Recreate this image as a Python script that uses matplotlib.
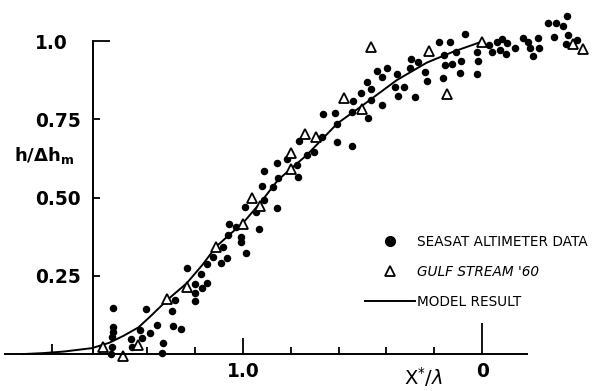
import numpy as np
import matplotlib
matplotlib.use("Agg")
import matplotlib.pyplot as plt
from matplotlib.lines import Line2D

# SEASAT altimeter data (x*/lambda, h/dh_m)
seasat_x = [1.545, 1.545, 1.545, 1.549, 1.549, 1.554, 1.470, 1.466, 1.431, 1.424,
            1.406, 1.389, 1.361, 1.336, 1.340, 1.298, 1.294, 1.285, 1.261, 1.236,
            1.201, 1.200, 1.200, 1.176, 1.170, 1.149, 1.149, 1.127, 1.093, 1.082,
            1.068, 1.062, 0.667, 0.615, 0.605, 0.605, 0.671, 0.703, 0.731, 0.767,
            0.773, 0.769, 0.817, 0.856, 0.911, 0.852, 0.873, 0.922, 0.911, 0.992,
            0.946, 0.856, 1.057, 1.029, 1.010, 0.932, 0.987, 1.010, 0.071, 0.179,
            0.134, 0.022, 0.017, 0.021, 0.109, 0.089, 0.127, 0.159, 0.155, 0.092,
            0.162, 0.238, 0.231, 0.267, 0.297, 0.301, 0.354, 0.364, 0.326, 0.353,
            0.280, 0.399, 0.441, 0.417, 0.482, 0.466, 0.508, 0.538, 0.466, 0.420,
            0.545, 0.476, -0.354, -0.277, -0.310, -0.340, -0.301, -0.361, -0.396, -0.351,
            -0.173, -0.236, -0.194, -0.201, -0.240, -0.215, -0.138, -0.082, -0.062, -0.103,
            -0.031, -0.075, -0.041, -0.100, 0.543]
seasat_y = [0.148, 0.087, 0.071, 0.055, 0.023, 0.000, 0.047, 0.021, 0.077, 0.050,
            0.143, 0.068, 0.094, 0.036, 0.004, 0.137, 0.089, 0.173, 0.081, 0.274,
            0.223, 0.194, 0.169, 0.255, 0.210, 0.226, 0.287, 0.309, 0.290, 0.341,
            0.306, 0.380, 0.767, 0.771, 0.735, 0.678, 0.694, 0.644, 0.636, 0.681,
            0.605, 0.565, 0.622, 0.609, 0.586, 0.561, 0.533, 0.537, 0.492, 0.469,
            0.455, 0.465, 0.414, 0.407, 0.375, 0.398, 0.322, 0.358, 1.022, 0.996,
            0.996, 0.964, 0.937, 0.895, 0.964, 0.937, 0.927, 0.955, 0.923, 0.899,
            0.881, 0.900, 0.873, 0.934, 0.942, 0.913, 0.895, 0.852, 0.852, 0.824,
            0.822, 0.913, 0.905, 0.886, 0.868, 0.846, 0.835, 0.809, 0.812, 0.796,
            0.774, 0.755, 1.081, 1.057, 1.057, 1.049, 1.014, 1.019, 1.003, 0.990,
            1.011, 1.011, 0.998, 0.977, 0.979, 0.952, 0.979, 1.005, 0.998, 0.993,
            0.987, 0.971, 0.964, 0.958, 0.665]

# Gulf Stream '60
gulf_x = [1.584, 1.501, 1.438, 1.317, 1.236, 1.113, 1.001, 0.964, 0.929, 0.799,
          0.799, 0.741, 0.695, 0.577, 0.503, 0.466, 0.221, 0.145, 0.001, -0.382, -0.421]
gulf_y = [0.021, -0.006, 0.029, 0.175, 0.213, 0.341, 0.415, 0.497, 0.473, 0.641,
          0.590, 0.702, 0.694, 0.817, 0.782, 0.982, 0.968, 0.830, 0.998, 0.990, 0.973]

# model result
model_x = [1.92, 1.837, 1.75, 1.632, 1.56, 1.501, 1.438, 1.38, 1.317, 1.236, 1.17, 1.113,
           1.05, 1.001, 0.929, 0.854, 0.733, 0.605, 0.497, 0.357, 0.231, 0.120, 0.001]
model_y = [0.0, 0.003, 0.008, 0.019, 0.036, 0.058, 0.085, 0.126, 0.173, 0.226, 0.285, 0.343,
           0.386, 0.418, 0.482, 0.556, 0.636, 0.737, 0.796, 0.875, 0.931, 0.966, 0.998]

yticks = [0.25, 0.5, 0.75, 1.0]
ytick_labels = ['0.25', '0.50', '0.75', '1.0']
xticks = [0, 0.2, 0.4, 0.6, 0.8, 1.0, 1.2, 1.4, 1.6, 1.8]
xtick_labels = ['0', '', '', '', '', '1.0', '', '', '', '']

plt.rcParams['font.family'] = ['DejaVu Sans']

fig = plt.figure(figsize=(6.03, 3.91), dpi=100)
ax = fig.add_axes([0, 0, 1, 1])
ax.set_xlim(2.017, -0.506)
ax.set_ylim(-0.118, 1.131)

ax.plot(model_x, model_y, color='k', lw=1.4)
ax.plot(seasat_x, seasat_y, ls='none', marker='o', ms=4.4, color='k', clip_on=False)
ax.plot(gulf_x, gulf_y, ls='none', marker='^', ms=6.5, mfc='white', mec='k', mew=1.3,
        clip_on=False)

for s in ['top', 'right']:
    ax.spines[s].set_visible(False)
ax.spines['bottom'].set_position(('data', 0))
ax.spines['bottom'].set_bounds(-0.188, 1.996)
ax.spines['left'].set_position(('data', 1.628))
ax.spines['left'].set_bounds(0, 1.0)
ax.spines['bottom'].set_linewidth(1.4)
ax.spines['left'].set_linewidth(1.4)

ax.set_yticks(yticks)
ax.set_yticklabels(ytick_labels)
ax.set_xticks(xticks)
ax.set_xticklabels(xtick_labels)
ax.tick_params(axis='both', direction='in', length=5, width=1.3, labelsize=13.4)
ax.tick_params(axis='y', pad=42)
ax.tick_params(axis='x', pad=6)
for t in ax.get_xticklabels():
    t.set_fontweight('bold')
for t in ax.get_yticklabels():
    t.set_fontweight('bold')
    t.set_horizontalalignment('left')

xt = ax.xaxis.get_major_ticks()
xt[0].tick1line.set_markersize(22)
xt[5].tick1line.set_markersize(11.5)
xt[9].tick1line.set_markersize(7)
yt = ax.yaxis.get_major_ticks()
yt[3].tick1line.set_markersize(12)

ax.set_ylabel(r'h/$\mathbf{\Delta}$h$_{\mathbf{m}}$', rotation=0, fontsize=13,
              fontweight='bold', ha='center', va='center')
ax.yaxis.set_label_coords(44 / 603, 1 - 155 / 391)
ax.set_xlabel(r'X$^{*}$/$\lambda$', fontsize=14, va='center')
ax.xaxis.set_label_coords(424 / 603, 1 - 377 / 391)

handles = [Line2D([], [], ls='none', marker='o', ms=7, color='k'),
           Line2D([], [], ls='none', marker='^', ms=6.5, mfc='white', mec='k', mew=1.3),
           Line2D([], [], color='k', lw=1.4)]
leg = ax.legend(handles, ['SEASAT ALTIMETER DATA', "GULF STREAM '60", 'MODEL RESULT'],
                loc='upper left', bbox_to_anchor=(365 / 603, 1 - 235 / 391),
                bbox_transform=fig.transFigure, frameon=False, fontsize=9.8,
                handlelength=3.7, handletextpad=0.15, labelspacing=1.17,
                borderpad=0, borderaxespad=0)
leg.get_texts()[1].set_style('italic')

fig.savefig('out.png', dpi=100)
